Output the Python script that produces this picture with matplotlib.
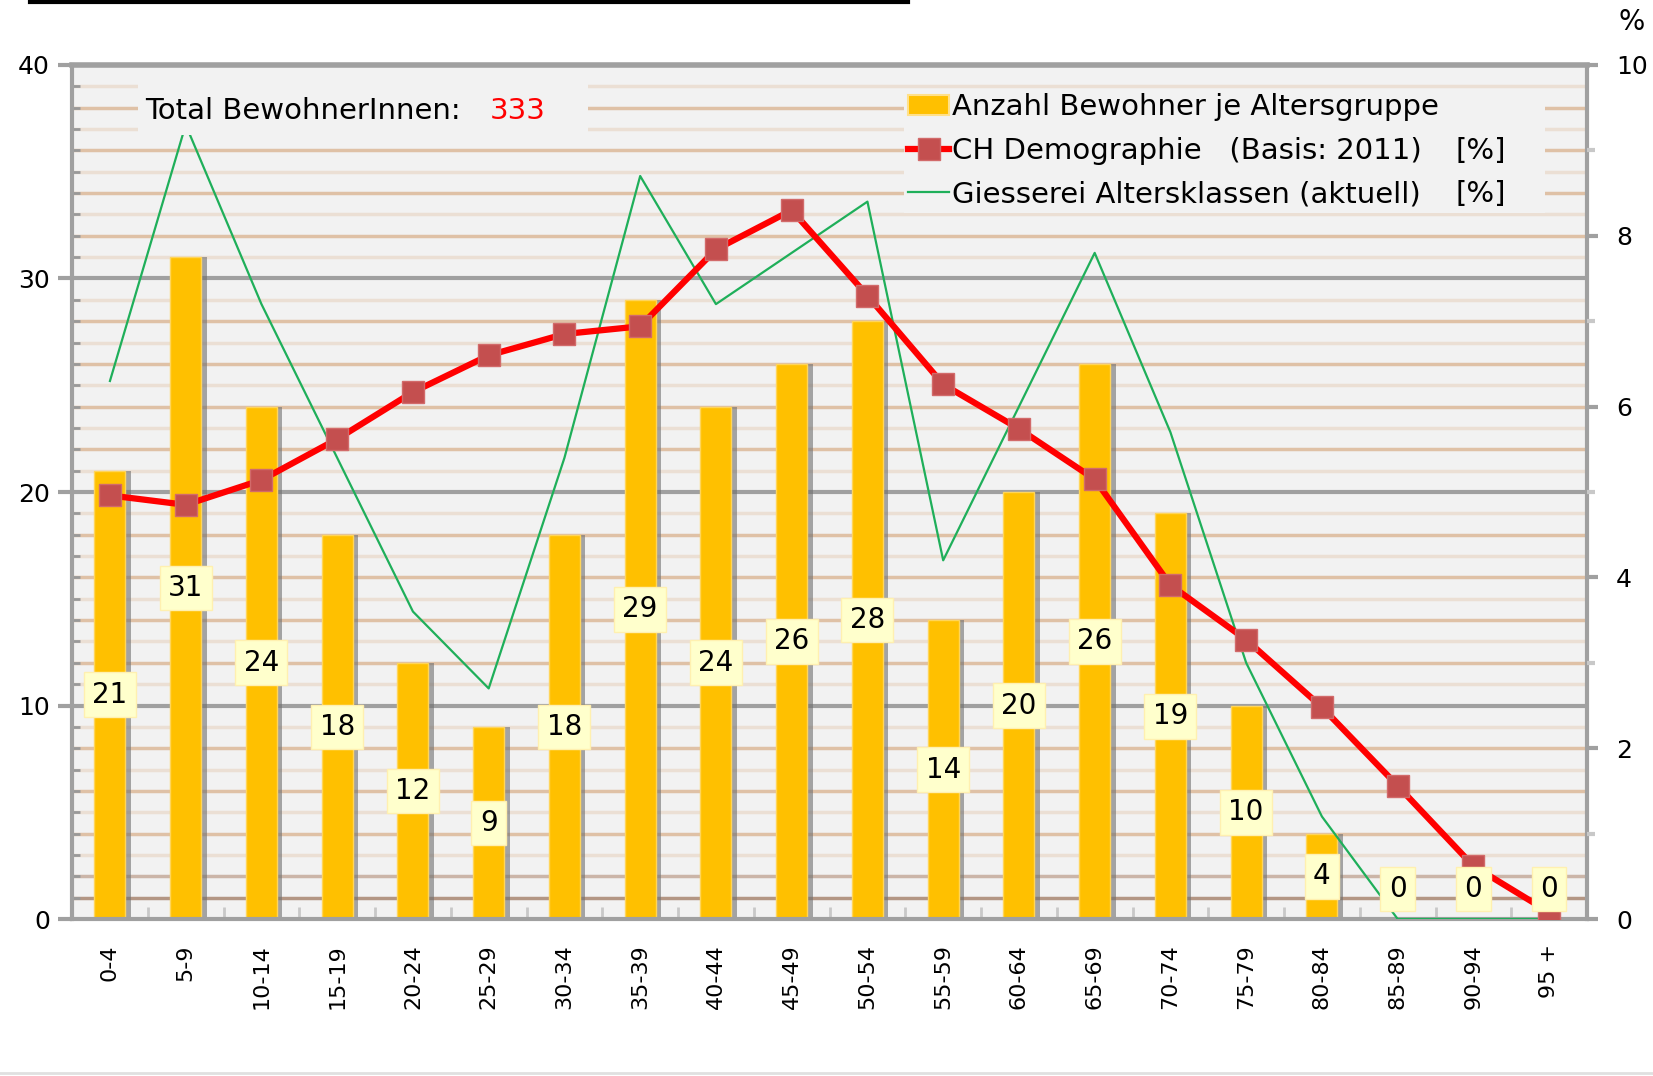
"""Giesserei: Bewohner je Altersgruppe vs. CH Demographie"""

import matplotlib
matplotlib.use("Agg")
import matplotlib.pyplot as plt
from matplotlib.lines import Line2D
from matplotlib.patches import Rectangle

plt.rcParams["font.family"] = ["DejaVu Sans"]

# data
age_groups = ["0-4", "5-9", "10-14", "15-19", "20-24", "25-29", "30-34", "35-39",
              "40-44", "45-49", "50-54", "55-59", "60-64", "65-69", "70-74",
              "75-79", "80-84", "85-89", "90-94", "95 +"]
residents = [21, 31, 24, 18, 12, 9, 18, 29, 24, 26, 28, 14, 20, 26, 19, 10, 4, 0, 0, 0]
ch_demography = [4.96, 4.85, 5.14, 5.62, 6.17, 6.60, 6.85, 6.94, 7.84, 8.30,
                 7.30, 6.26, 5.74, 5.15, 3.91, 3.27, 2.48, 1.56, 0.62, 0.08]
giesserei_pct = [6.3, 9.3, 7.2, 5.4, 3.6, 2.7, 5.4, 8.7, 7.2, 7.8,
                 8.4, 4.2, 6.0, 7.8, 5.7, 3.0, 1.2, 0.0, 0.0, 0.0]
total_residents = 333

BAR = "#ffc000"
RED = "#ff0000"
MARKER = "#c44f4f"
GREEN = "#1faf5a"
FACE = "#f2f2f2"
AXGRAY = "#a0a0a0"

fig = plt.figure(figsize=(16.53, 10.76), dpi=100)
ax = fig.add_axes([0.0436, 0.1459, 0.9165, 0.7937])
ax.set_facecolor(FACE)
x = list(range(len(age_groups)))

# horizontal grid: gray at 10s, tan at every unit
for v in range(1, 40):
    if v % 10 == 0:
        ax.axhline(v, color=AXGRAY, lw=3, zorder=0.6)
    elif v <= 2:
        ax.axhline(v, color="#b39684" if v == 1 else "#cbb5a8", lw=2.5, zorder=0.5)
    else:
        ax.axhline(v, color="#dfc1a6" if v % 2 == 0 else "#ebdfd4", lw=2.5, zorder=0.5)

# bars with a small shadow on the right
ax.bar([i + 0.07 for i in x], residents, width=0.41, color="#6f6f6f", alpha=0.6,
       zorder=1.5, linewidth=0)
ax.bar(x, residents, width=0.41, color=BAR, edgecolor="#ffd55a", linewidth=1, zorder=2)

ax.set_xlim(-0.5, len(age_groups) - 0.5)
ax.set_ylim(0, 40)
ax.set_yticks([0, 10, 20, 30, 40])
ax.set_yticks(range(0, 41), minor=True)
ax.set_xticks(x)
ax.set_xticks([i + 0.5 for i in x[:-1]], minor=True)
ax.set_xticklabels(age_groups, rotation=90, fontsize=16)
ax.tick_params(axis="y", which="major", length=10, width=3, color=AXGRAY,
               labelsize=18, pad=6)
ax.tick_params(axis="y", which="minor", direction="in", length=6, width=2, color="#999999")
ax.tick_params(axis="x", which="major", length=0, pad=18)
ax.tick_params(axis="x", which="minor", direction="in", length=9, width=2, color="#c8c8c8")

for side in ["left", "right", "top", "bottom"]:
    ax.spines[side].set_color(AXGRAY)
    ax.spines[side].set_linewidth(3)
ax.spines["top"].set_linewidth(4)

# right axis in percent
ax2 = ax.twinx()
ax2.set_ylim(0, 10)
ax2.set_yticks([0, 2, 4, 6, 8, 10])
ax2.set_yticks(range(0, 11), minor=True)
ax2.tick_params(axis="y", which="major", length=8, width=3, color=AXGRAY,
                labelsize=18, pad=13)
ax2.tick_params(axis="y", which="minor", length=6, width=3, color="#c8c8c8")
for side in ["left", "right", "top", "bottom"]:
    ax2.spines[side].set_visible(False)

green_line, = ax2.plot(x, giesserei_pct, color=GREEN, lw=1.6, zorder=3)
red_line, = ax2.plot(x, ch_demography, color=RED, lw=4.5, marker="s", markersize=16,
                     markerfacecolor=MARKER, markeredgecolor="#d26a6a",
                     markeredgewidth=1, zorder=4)

# value labels in pale yellow boxes, drawn in bar coordinates
for i, v in zip(x, residents):
    ax2.text(i, max(v / 2, 1.4), str(v), transform=ax.transData, ha="center",
             va="center", fontsize=20, zorder=6,
             bbox=dict(boxstyle="square,pad=0.3", facecolor="#ffffcc",
                       edgecolor="#fff0b0", linewidth=1))

# total box
ax2.add_patch(Rectangle((0.0436, 0.918), 0.297, 0.064, transform=ax2.transAxes,
                        facecolor=FACE, edgecolor="none", zorder=5))
ax2.text(0.048, 0.946, "Total BewohnerInnen:", transform=ax2.transAxes, fontsize=21,
         va="center", ha="left", zorder=6)
ax2.text(0.276, 0.946, str(total_residents), transform=ax2.transAxes, fontsize=21,
         va="center", ha="left", color=RED, zorder=6)

# legend
bar_handle = Rectangle((0, 0), 1, 1, facecolor=BAR, edgecolor="#ffe08a", linewidth=1.5)
leg = ax2.legend([bar_handle, red_line, green_line],
                 ["Anzahl Bewohner je Altersgruppe",
                  "CH Demographie   (Basis: 2011)",
                  "Giesserei Altersklassen (aktuell)"],
                 loc="upper left", bbox_to_anchor=(0.549, 0.972, 0.423, 0.0),
                 mode="expand", fontsize=21, frameon=True, facecolor=FACE,
                 edgecolor="none", framealpha=1, fancybox=False, borderpad=0.15,
                 labelspacing=0.53, handlelength=1.4, handletextpad=0.1,
                 borderaxespad=0)
leg.set_zorder(5)
for yy in (0.8995, 0.849):
    ax2.text(0.913, yy, "[%]", transform=ax2.transAxes, fontsize=21,
             va="center", ha="left", zorder=6)

fig.text(0.987, 0.980, "%", fontsize=20, ha="center", va="center")
fig.add_artist(Line2D([30 / 1653, 908 / 1653], [1 - 2 / 1076, 1 - 2 / 1076],
                      transform=fig.transFigure, color="black", lw=3))
fig.add_artist(Line2D([0, 1], [1 - 1073 / 1076, 1 - 1073 / 1076],
                      transform=fig.transFigure, color="#e0e0e0", lw=2))

fig.savefig("out.png", dpi=100)
